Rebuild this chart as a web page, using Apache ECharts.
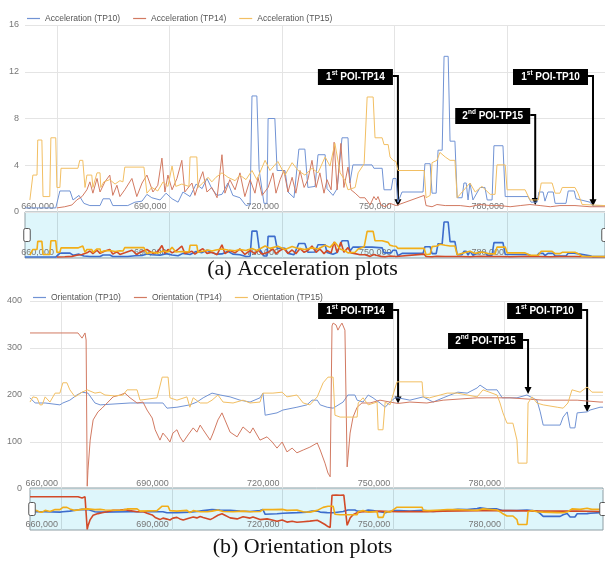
<!DOCTYPE html>
<html>
<head>
<meta charset="utf-8">
<script src="https://cdn.jsdelivr.net/npm/echarts@6/dist/echarts.min.js"></script>
<style>
  html, body { margin: 0; padding: 0; background: #fff; }
  #chart { width: 605px; height: 562px; }
</style>
</head>
<body>
<div id="chart"></div>
<script>
// Time is kept in thousands (660 -> 660,000).
const timeTicks = [660, 690, 720, 750, 780];

const accNames = ['Acceleration (TP10)', 'Acceleration (TP14)', 'Acceleration (TP15)'];
const oriNames = ['Orientation (TP10)', 'Orientation (TP14)', 'Orientation (TP15)'];

// Acceleration readings [time, value]
const accTP10 = [[651.5,0.35],[659.7,0.35],[660.8,1.8],[663.5,1.8],[664.3,1.03],[665.9,1.42],[667.2,0.74],[668.8,0.55],[671.5,0.55],[672.3,1.13],[674.1,1.13],[674.9,0.55],[678.9,0.55],[680.8,0.84],[682.7,0.93],[684.0,1.51],[685.3,1.22],[687.5,1.03],[689.1,1.61],[690.7,1.13],[692.3,0.84],[693.6,1.71],[695.5,1.32],[697.1,2.39],[698.7,2.0],[700.0,2.87],[701.3,2.0],[702.7,1.42],[704.0,1.51],[705.6,2.48],[706.9,1.42],[708.8,1.22],[710.4,0.55],[711.5,0.64],[712.0,9.93],[713.3,9.93],[713.9,3.64],[715.2,0.74],[716.0,0.74],[716.3,8.0],[718.1,8.0],[718.7,3.55],[720.8,3.55],[721.6,1.71],[723.2,1.22],[724.5,5.38],[726.1,5.38],[726.9,2.1],[728.8,2.19],[729.6,4.9],[731.5,4.9],[732.0,2.0],[733.6,1.42],[734.7,2.0],[736.0,6.35],[737.6,6.35],[738.1,2.48],[738.9,4.03],[744.0,4.03],[744.5,3.74],[746.7,3.74],[747.2,1.9],[749.1,1.9],[749.6,2.87],[750.4,2.87],[750.9,0.84],[752.0,1.71],[757.6,1.71],[758.1,4.13],[759.5,4.13],[760.0,1.61],[761.1,1.61],[761.6,5.29],[762.7,5.29],[763.2,13.32],[764.3,13.32],[764.8,6.06],[766.1,6.06],[766.7,1.22],[768.0,1.22],[768.5,2.48],[769.1,2.48],[769.6,1.03],[770.1,2.48],[770.9,1.03],[772.8,2.1],[774.1,2.1],[774.7,1.03],[776.0,1.03],[776.5,5.67],[778.9,5.67],[779.5,1.32],[785.6,1.32],[786.4,0.84],[788.0,0.84],[788.5,1.71],[789.6,1.71],[790.1,0.93],[790.9,1.71],[792.3,1.71],[792.8,0.74],[795.7,0.74],[796.3,1.8],[797.9,1.8],[798.4,1.13],[802.1,0.84],[802.9,0.5],[806.1,0.55]];

const accTP14 = [[660.0,0.35],[662.1,0.45],[664.0,0.6],[665.3,1.03],[666.7,1.32],[668.0,1.9],[668.8,2.58],[669.6,1.61],[670.7,2.87],[671.5,1.71],[672.8,2.58],[674.1,3.16],[674.9,1.42],[676.0,2.29],[676.8,1.32],[678.1,1.9],[680.0,2.87],[681.3,1.32],[682.7,2.48],[684.0,3.16],[685.6,1.71],[686.9,2.29],[688.0,4.61],[688.8,1.71],[689.6,3.16],[690.7,1.9],[692.0,2.87],[693.3,4.42],[694.1,1.71],[696.0,2.48],[696.8,1.42],[698.1,2.77],[698.9,3.45],[700.0,1.71],[701.3,2.1],[702.7,1.22],[704.0,4.9],[704.8,1.61],[706.1,2.77],[707.5,1.9],[708.8,3.35],[710.1,1.32],[711.5,2.77],[712.8,1.61],[713.6,2.97],[714.7,1.42],[716.3,2.1],[717.6,3.35],[718.4,1.61],[719.5,2.77],[720.5,3.55],[721.6,1.71],[722.7,2.97],[723.7,1.61],[724.8,3.55],[725.9,2.1],[726.9,2.77],[728.0,4.42],[729.1,2.1],[730.1,3.35],[731.2,1.61],[732.0,2.77],[733.1,1.9],[733.9,5.97],[734.7,1.9],[735.7,5.87],[736.5,2.1],[737.6,3.84],[738.4,1.9],[739.5,1.61],[740.8,1.22],[742.1,1.22],[743.5,0.6],[744.5,1.32],[745.1,1.03],[745.6,1.32],[746.4,0.6],[747.5,0.45],[748.8,0.74],[750.4,0.55],[750.9,0.5],[757.9,1.42],[758.4,0.55],[760.0,0.45],[761.3,0.64],[763.5,0.55],[767.5,0.55],[770.1,0.45],[772.8,0.64],[775.5,0.55],[778.1,0.55],[780.8,0.45],[783.5,0.55],[786.1,0.64],[788.8,0.55],[791.5,0.45],[794.1,0.55],[798.1,0.55],[802.1,0.45],[806.1,0.45]];

const accTP15 = [[652.8,1.03],[653.6,3.16],[654.7,3.16],[654.9,6.16],[656.0,6.16],[656.3,1.32],[658.1,1.32],[658.4,6.35],[659.7,6.35],[660.0,2.1],[660.8,2.1],[661.1,3.74],[665.6,3.74],[666.1,4.42],[666.9,4.42],[667.5,2.1],[668.0,3.16],[669.3,3.16],[669.6,2.1],[670.7,3.35],[671.5,3.35],[671.7,2.1],[672.5,2.58],[674.1,2.77],[675.5,2.39],[676.8,2.68],[677.6,2.58],[678.1,3.84],[683.2,3.84],[684.0,1.61],[685.3,2.1],[686.9,1.8],[688.3,2.58],[689.6,2.19],[690.7,3.93],[691.7,2.19],[693.3,2.39],[695.2,2.19],[695.5,4.71],[697.3,4.71],[697.6,2.1],[698.9,2.48],[700.3,2.97],[701.3,2.58],[702.4,2.97],[704.0,3.35],[705.6,2.97],[707.5,2.68],[708.8,3.16],[710.4,2.77],[712.0,3.55],[713.3,2.77],[715.5,4.42],[716.8,3.55],[718.9,4.32],[720.8,3.16],[722.7,4.22],[724.3,3.55],[726.1,3.16],[728.0,3.74],[729.6,3.35],[731.5,4.71],[732.8,3.93],[734.1,5.87],[735.5,3.35],[736.8,2.68],[737.6,1.9],[739.5,2.1],[740.3,3.35],[741.9,4.13],[742.7,9.84],[744.3,9.84],[744.8,6.35],[746.7,6.35],[747.2,5.77],[748.3,5.77],[748.8,4.71],[749.6,4.42],[750.4,4.32],[750.9,3.55],[757.9,3.55],[758.4,1.22],[759.5,1.42],[760.0,4.22],[761.3,4.42],[762.1,5.1],[763.5,4.71],[764.8,4.42],[766.1,4.42],[766.7,1.22],[768.8,2.0],[770.1,2.48],[771.5,1.71],[773.3,2.19],[775.5,1.51],[776.8,1.51],[777.3,4.03],[779.5,4.03],[780.0,1.9],[784.8,1.9],[786.1,1.03],[788.3,1.03],[789.1,2.48],[792.0,2.48],[792.8,1.61],[794.1,1.61],[794.7,2.1],[798.1,2.1],[798.9,1.61],[800.0,0.64],[806.1,0.55]];

// Orientation readings [time, degrees]
const oriTP10 = [[651.6,194],[653.0,183],[655.7,183],[659.7,179],[660.5,183],[662.4,189],[664.3,200],[665.7,206],[667.3,204],[669.2,183],[670.6,179],[678.7,183],[687.6,183],[688.7,172],[691.4,174],[694.9,179],[696.8,185],[698.5,194],[700.9,204],[703.1,200],[705.8,196],[708.5,189],[711.2,185],[713.9,194],[714.7,204],[715.3,157],[718.5,162],[720.1,168],[723.9,174],[726.6,179],[728.0,189],[729.4,189],[730.2,179],[732.1,174],[733.7,172],[736.4,185],[737.7,200],[739.6,200],[740.2,189],[741.8,185],[743.2,200],[744.5,194],[746.4,183],[747.8,174],[749.1,185],[750.5,194],[751.3,194],[754.5,189],[758.1,196],[760.8,185],[763.5,194],[765.4,200],[767.5,206],[770.0,204],[772.7,215],[773.5,221],[775.4,211],[778.1,211],[779.5,194],[783.5,194],[786.2,200],[788.9,189],[789.8,164],[790.6,136],[795.2,136],[796.0,153],[797.1,164],[797.9,130],[799.2,130],[799.8,162],[802.5,164],[803.3,168],[806.0,174],[806.8,174]];

const oriTP14 = [[651.6,332],[664.6,332],[665.7,321],[666.5,332],[666.8,317],[667.1,6],[667.3,40],[667.9,104],[668.7,147],[670.0,164],[671.1,172],[672.5,183],[674.1,196],[676.0,200],[677.3,204],[678.7,194],[680.6,183],[682.2,185],[683.3,168],[684.7,151],[685.5,126],[686.8,104],[687.6,119],[688.7,109],[689.5,100],[690.3,119],[691.4,126],[692.2,111],[693.1,100],[694.4,115],[695.8,130],[696.8,121],[697.7,136],[698.5,126],[700.4,104],[701.2,119],[702.5,147],[703.6,162],[704.4,147],[705.8,121],[707.7,111],[709.3,132],[711.2,119],[712.0,130],[713.9,104],[715.8,111],[717.2,100],[718.5,87],[719.9,100],[721.2,79],[722.6,87],[723.9,77],[725.6,83],[727.4,89],[729.4,98],[730.2,83],[731.5,55],[732.3,34],[732.9,26],[733.4,347],[733.7,353],[734.5,349],[735.0,338],[735.6,347],[736.1,353],[736.6,349],[736.9,338],[737.5,47],[738.3,119],[739.1,153],[740.2,174],[741.5,183],[743.7,183],[746.4,189],[749.1,185],[751.3,182],[754.5,185],[759.1,183],[763.5,189],[772.7,194],[781.6,194],[790.6,189],[799.8,189],[806.0,185],[806.8,185]];

const oriTP15 = [[651.6,185],[652.4,196],[653.5,194],[654.3,179],[654.9,179],[655.7,196],[657.0,185],[658.4,204],[659.7,204],[660.5,226],[661.6,226],[662.4,211],[663.8,196],[665.7,206],[667.1,211],[669.2,204],[670.6,206],[671.9,200],[674.6,198],[676.8,200],[677.9,211],[680.6,211],[681.4,189],[686.0,194],[687.4,238],[689.0,238],[689.5,194],[691.4,189],[694.1,196],[694.9,174],[695.8,194],[697.7,183],[699.6,183],[700.9,189],[702.5,200],[703.9,185],[706.6,183],[709.3,189],[711.2,183],[713.9,185],[714.7,204],[717.4,204],[719.9,206],[721.2,196],[723.9,200],[725.6,183],[727.4,179],[729.4,196],[731.0,226],[732.3,238],[733.7,238],[734.2,157],[735.6,153],[740.2,153],[740.5,183],[741.8,194],[743.2,179],[745.6,185],[745.9,126],[747.2,126],[747.8,185],[749.1,179],[751.0,228],[757.8,228],[758.1,196],[759.8,194],[762.7,200],[764.6,204],[767.3,204],[770.0,200],[772.7,196],[774.3,211],[778.1,200],[778.9,183],[779.7,162],[780.8,140],[782.4,140],[783.5,104],[783.8,55],[786.2,55],[786.5,183],[787.6,196],[788.9,183],[790.6,179],[794.4,174],[796.0,172],[797.3,183],[798.4,211],[800.6,206],[802.5,217],[803.8,206],[806.8,206]];

// Points of interest: label, time, value
const accPoiLabels = ['1st POI-TP14', '2nd POI-TP15', '1st POI-TP10'];
const accPoiTimes  = [750.9, 787.5, 802.9];
const accPoiValues = [0.5, 0.6, 0.5];
const oriPoiLabels = ['1st POI-TP14', '2nd POI-TP15', '1st POI-TP10'];
const oriPoiTimes  = [751.3, 786.5, 802.5];
const oriPoiValues = [182, 202, 164];

// ---- styling / layout ----
const FONT = '"Liberation Sans", Arial, Helvetica, sans-serif';
const lineColors = ['#7193d4', '#d27a62', '#f2bf63'];
const navColors  = ['#3c6ccc', '#d24a28', '#f2ae18'];
const layout = {
  acc: { left: 25, top: 25, width: 580, height: 187, navTop: 212, navHeight: 46, xMin: 651.5, xMax: 806.1, navMax: 17 },
  ori: { left: 30, top: 301, width: 573, height: 188, navTop: 488, navHeight: 42, xMin: 651.6, xMax: 806.8, navMax: 420 }
};
const accBoxTops = [69, 108, 69];
const oriBoxTops = [303, 333, 303];

const fmtTime = v => (Math.round(v * 1000)).toLocaleString('en-US');

function timeAxis(gridIndex, L, nav) {
  return {
    type: 'value', gridIndex, min: L.xMin, max: L.xMax,
    axisLine: { show: false },
    axisTick: { show: false, customValues: timeTicks },
    splitLine: { show: true, customValues: timeTicks,
      lineStyle: { color: nav ? '#c3d9de' : '#e4e4e4', width: 1 } },
    axisLabel: {
      inside: true, customValues: timeTicks, formatter: fmtTime,
      align: 'right', padding: [0, 3, 0, 0], margin: 1,
      fontSize: 9, color: '#777', fontFamily: FONT
    }
  };
}

function valueAxis(gridIndex, max, interval, margin) {
  return {
    type: 'value', gridIndex, min: 0, max, interval,
    axisLine: { show: false }, axisTick: { show: false },
    splitLine: { lineStyle: { color: '#e4e4e4', width: 1 } },
    axisLabel: { fontSize: 9, color: '#777', margin, fontFamily: FONT }
  };
}

function navValueAxis(gridIndex, max) {
  return { type: 'value', gridIndex, min: 0, max, show: false, splitLine: { show: false } };
}

function lineSeries(name, data, axisIndex, color, width) {
  return {
    type: 'line', name, data, xAxisIndex: axisIndex, yAxisIndex: axisIndex,
    symbol: 'none', showSymbol: false, animation: false,
    lineStyle: { color, width }, itemStyle: { color }
  };
}

const accSets = [accTP10, accTP14, accTP15];
const oriSets = [oriTP10, oriTP14, oriTP15];

const series = [];
accSets.forEach((d, i) => series.push(lineSeries(accNames[i], d, 0, lineColors[i], 1)));
accSets.forEach((d, i) => series.push(lineSeries(accNames[i], d, 1, navColors[i], 1.6)));
oriSets.forEach((d, i) => series.push(lineSeries(oriNames[i], d, 2, lineColors[i], 1)));
oriSets.forEach((d, i) => series.push(lineSeries(oriNames[i], d, 3, navColors[i], 1.6)));

const A = layout.acc, O = layout.ori;
const navGrid = (L) => ({
  left: L.left, top: L.navTop, width: L.width, height: L.navHeight,
  show: true, backgroundColor: '#def6fb', borderColor: '#8e9ea4', borderWidth: 1
});

const handleIcon = 'path://M1.5,0 H4.5 Q6,0 6,1.5 V10.5 Q6,12 4.5,12 H1.5 Q0,12 0,10.5 V1.5 Q0,0 1.5,0 Z';
const slider = (L, axis) => ({
  type: 'slider', xAxisIndex: axis, filterMode: 'none',
  left: L.left, top: L.navTop, width: L.width, height: L.navHeight,
  start: 0, end: 100, showDetail: false, showDataShadow: false, brushSelect: false,
  backgroundColor: 'rgba(0,0,0,0)', fillerColor: 'rgba(0,0,0,0)', borderColor: 'rgba(0,0,0,0)',
  moveHandleSize: 0, handleIcon, handleSize: 13,
  handleStyle: { color: '#fff', borderColor: '#555', borderWidth: 1 },
  emphasis: { handleStyle: { color: '#fff', borderColor: '#333' } }
});

const legend = (names, left, top) => ({
  data: names, left, top, icon: 'rect', itemWidth: 13, itemHeight: 1.2, itemGap: 13,
  textStyle: { fontSize: 8.5, color: '#555', fontFamily: FONT }
});

const caption = (text, top) => ({
  text, left: 'center', top,
  textStyle: { fontFamily: '"Liberation Serif", "Times New Roman", serif', fontSize: 22, fontWeight: 'normal', color: '#111' }
});

const chart = echarts.init(document.getElementById('chart'), null, { renderer: 'canvas' });
chart.setOption({
  animation: false,
  backgroundColor: '#fff',
  textStyle: { fontFamily: FONT },
  title: [caption('(a) Acceleration plots', 253), caption('(b) Orientation plots', 531)],
  legend: [legend(accNames, 22, 9), legend(oriNames, 28, 288)],
  tooltip: { trigger: 'axis', axisPointer: { type: 'line' } },
  grid: [
    { left: A.left, top: A.top, width: A.width, height: A.height },
    navGrid(A),
    { left: O.left, top: O.top, width: O.width, height: O.height },
    navGrid(O)
  ],
  xAxis: [timeAxis(0, A, false), timeAxis(1, A, true), timeAxis(2, O, false), timeAxis(3, O, true)],
  yAxis: [valueAxis(0, 16, 4, 6), navValueAxis(1, A.navMax), valueAxis(2, 400, 100, 8), navValueAxis(3, O.navMax)],
  dataZoom: [slider(A, 0), slider(O, 2)],
  series
});

// Callout boxes with arrows pointing at each point of interest
function callouts(gridIndex, labels, times, values, boxTops) {
  const W = 75, H = 16;
  return labels.map((label, i) => {
    const [tx, ty] = chart.convertToPixel({ gridIndex }, [times[i], values[i]]);
    const bx = tx - 5 - W, by = boxTops[i];
    const m = label.match(/^(\d+)(st|nd|rd|th)(.*)$/);
    const text = `{n|${m[1]}}{s|${m[2]}}{n|${m[3]}}`;
    return {
      type: 'group', z: 100,
      children: [
        { type: 'polyline', shape: { points: [[bx + W, by + 7], [tx, by + 7], [tx, ty - 6]] },
          style: { stroke: '#000', lineWidth: 2, fill: null } },
        { type: 'polygon', shape: { points: [[tx - 3.5, ty - 7], [tx + 3.5, ty - 7], [tx, ty]] },
          style: { fill: '#000' } },
        { type: 'rect', shape: { x: bx, y: by, width: W, height: H }, style: { fill: '#000' } },
        { type: 'text', x: bx + W / 2, y: by + H / 2,
          style: {
            text, align: 'center', verticalAlign: 'middle', fill: '#fff',
            rich: {
              n: { fontSize: 10, fontWeight: 'bold', fill: '#fff', fontFamily: FONT, lineHeight: 14 },
              s: { fontSize: 6.5, fontWeight: 'bold', fill: '#fff', fontFamily: FONT, lineHeight: 8, verticalAlign: 'top' }
            }
          } }
      ]
    };
  });
}

chart.setOption({
  graphic: [
    ...callouts(0, accPoiLabels, accPoiTimes, accPoiValues, accBoxTops),
    ...callouts(2, oriPoiLabels, oriPoiTimes, oriPoiValues, oriBoxTops)
  ]
});
</script>
</body>
</html>
